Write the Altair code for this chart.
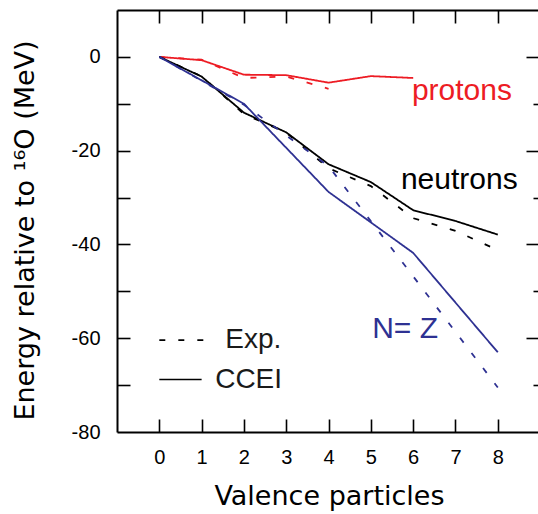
import altair as alt
import pandas as pd

# ---------------- data ----------------
prot_x_ccei = [0, 1, 2, 3, 4, 5, 6]
prot_ccei = [0.0, -0.7, -3.8, -3.9, -5.5, -4.1, -4.5]
prot_x_exp = [0, 1, 2, 3, 4]
prot_exp = [0.0, -0.6, -4.5, -4.2, -6.8]

neut_x = [0, 1, 2, 3, 4, 5, 6, 7, 8]
neut_ccei = [0.0, -4.2, -11.9, -16.1, -22.9, -26.7, -32.7, -35.0, -37.9]
neut_exp = [0.0, -4.14, -12.19, -16.15, -23.75, -27.55, -34.4, -37.1, -41.2]

nz_x = [0, 2, 4, 6, 8]
nz_ccei = [0.0, -10.0, -28.8, -41.8, -63.0]
nz_exp = [0.0, -10.2, -23.3, -46.8, -70.5]

series_names = ["protons", "neutrons", "NZ"]
series_colors = ["#ed1c24", "#000000", "#2e3192"]

x_ticks = [0, 1, 2, 3, 4, 5, 6, 7, 8]
y_labels = [0, -20, -40, -60, -80]
y_ticks_all = [0, -10, -20, -30, -40, -50, -60, -70]
y_ticks_major = [0, -20, -40, -60]
y_ticks_minor = [-10, -30, -50, -70]

# annotations (data coordinates)
ann_text = ["protons", "neutrons", "N= Z"]
ann_x = [5.97, 5.71, 5.03]
ann_y = [-9.3, -28.1, -60.0]

leg_text = ["Exp.", "CCEI"]
leg_text_x = [1.56, 1.32]
leg_text_y = [-62.0, -70.6]
leg_line_x0 = [0.0, 0.0]
leg_line_x1 = [1.09, 1.0]
leg_line_y = [-60.4, -68.8]

rows = []
def add(series, kind, xs, ys):
    for a, b in zip(xs, ys):
        rows.append({"x": a, "y": b, "series": series, "kind": kind,
                     "key": series + "_" + kind})

add("protons", "CCEI", prot_x_ccei, prot_ccei)
add("protons", "Exp", prot_x_exp, prot_exp)
add("neutrons", "CCEI", neut_x, neut_ccei)
add("neutrons", "Exp", neut_x, neut_exp)
add("NZ", "CCEI", nz_x, nz_ccei)
add("NZ", "Exp", nz_x, nz_exp)
df = pd.DataFrame(rows)

ann_df = pd.DataFrame({"text": ann_text, "x": ann_x, "y": ann_y,
                       "series": series_names})
leg_text_df = pd.DataFrame({"text": leg_text, "x": leg_text_x, "y": leg_text_y})
leg_line_df = pd.DataFrame({"x0": leg_line_x0, "x1": leg_line_x1,
                            "y": leg_line_y, "kind": ["Exp", "CCEI"]})

W, H = 421, 422
xs = alt.Scale(domain=[-1, 8.95], nice=False, zero=False)
ys = alt.Scale(domain=[-80, 10], nice=False, zero=False)
FONT = "Liberation Sans"
TFONT = "DejaVu Sans"

common = dict(grid=False, labelColor="black", tickColor="black",
              domainColor="black", titleColor="black")

ax_x_main = alt.Axis(orient="bottom", values=x_ticks, labelExpr="'' + datum.value",
                     ticks=False, domain=True, domainWidth=2, labelFont=FONT,
                     labelFontSize=20, labelPadding=15, title="Valence particles",
                     titleFont=TFONT, titleFontSize=27, titleFontWeight="normal",
                     titleX=212, titleY=72, titleBaseline="alphabetic",
                     titleAlign="center", labelFlush=False, **common)
ax_y_main = alt.Axis(orient="left", values=y_labels, labelExpr="'' + datum.value",
                     ticks=False, domain=True, domainWidth=2, labelFont=FONT,
                     labelFontSize=20, labelPadding=17,
                     title="Energy relative to \u00b9\u2076O (MeV)",
                     titleFont=TFONT, titleFontSize=27, titleFontWeight="normal",
                     titleAngle=270, titleX=-84, titleY=220,
                     titleBaseline="alphabetic", titleAlign="center",
                     labelFlush=False, **common)

# inward ticks on the bottom edge
ax_x_bot_ticks = alt.Axis(orient="top", offset=-H, values=x_ticks, labels=False,
                          domain=False, ticks=True, tickSize=13, tickWidth=1.6,
                          title=None, **common)
# top frame line + inward ticks
ax_x_top = alt.Axis(orient="bottom", offset=-H, values=x_ticks, labels=False,
                    domain=True, domainWidth=2, ticks=True, tickSize=13,
                    tickWidth=1.6, title=None, **common)
# inward ticks on the left edge
ax_y_left_ticks = alt.Axis(orient="right", offset=-W, values=y_ticks_all,
                           labels=False, domain=False, ticks=True, tickSize=13,
                           tickWidth=1.6, title=None, **common)
# inward ticks on the right edge
ax_y_right_major = alt.Axis(orient="left", offset=-W, values=y_ticks_major,
                            labels=False, domain=False, ticks=True, tickSize=12,
                            tickWidth=1.6, title=None, **common)
ax_y_right_minor = alt.Axis(orient="left", offset=-W, values=y_ticks_minor,
                            labels=False, domain=False, ticks=True, tickSize=5,
                            tickWidth=1.6, title=None, **common)

lines = alt.Chart(df).mark_line(strokeWidth=1.8).encode(
    x=alt.X("x:Q", scale=xs, axis=ax_x_main),
    y=alt.Y("y:Q", scale=ys, axis=ax_y_main),
    color=alt.Color("series:N", scale=alt.Scale(domain=series_names,
                                                range=series_colors), legend=None),
    strokeDash=alt.StrokeDash("kind:N", scale=alt.Scale(domain=["Exp", "CCEI"],
                                                        range=[[6, 13], [1, 0]]),
                              legend=None),
    detail="key:N",
)

def axis_layer(axx, axy):
    enc = {"y": alt.Y("y:Q", scale=ys, axis=axy)}
    enc["x"] = alt.X("x:Q", scale=xs, axis=axx)
    return alt.Chart(df).mark_point(opacity=0).encode(**enc)

l2 = axis_layer(ax_x_bot_ticks, ax_y_left_ticks)
l3 = axis_layer(ax_x_top, ax_y_right_major)
l4 = axis_layer(None, ax_y_right_minor)

ann = alt.Chart(ann_df).mark_text(font=FONT, fontSize=30, align="left",
                                  baseline="alphabetic").encode(
    x=alt.X("x:Q", scale=xs, axis=None),
    y=alt.Y("y:Q", scale=ys, axis=None),
    text="text:N",
    color=alt.Color("series:N", scale=alt.Scale(domain=series_names,
                                                range=series_colors), legend=None),
)

leg_txt = alt.Chart(leg_text_df).mark_text(font=FONT, fontSize=28, align="left",
                                           baseline="alphabetic", color="#1a1a1a").encode(
    x=alt.X("x:Q", scale=xs, axis=None),
    y=alt.Y("y:Q", scale=ys, axis=None),
    text="text:N",
)

leg_lines = alt.Chart(leg_line_df).mark_rule(color="black", strokeWidth=1.6).encode(
    x=alt.X("x0:Q", scale=xs, axis=None),
    x2="x1:Q",
    y=alt.Y("y:Q", scale=ys, axis=None),
    strokeDash=alt.StrokeDash("kind:N", scale=alt.Scale(domain=["Exp", "CCEI"],
                                                        range=[[6, 14], [1, 0]]),
                              legend=None),
)

chart = alt.layer(lines, l2, l3, l4, ann, leg_txt, leg_lines).resolve_axis(
    x="independent", y="independent"
).properties(
    width=W, height=H,
    padding={"left": 117, "top": 10, "right": 0, "bottom": 82},
    autosize=alt.AutoSizeParams(type="none"),
    background="white",
).configure_view(stroke=None)

chart.save("out.html", embed_options={"renderer": "svg", "actions": False})
